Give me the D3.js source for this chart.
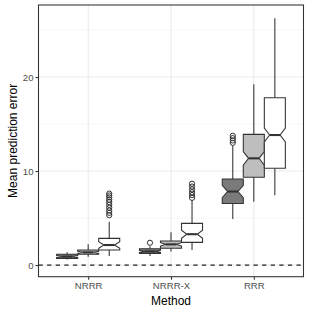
<!DOCTYPE html>
<html>
<head>
<meta charset="utf-8">
<script src="https://cdn.jsdelivr.net/npm/d3@7/dist/d3.min.js"></script>
<style>
html,body{margin:0;padding:0;background:#fff;}
svg{display:block;font-family:"Liberation Sans",Arial,sans-serif;}
</style>
</head>
<body>
<svg id="chart" width="310" height="310"></svg>
<script>
// ---- data ----
const methods = ["NRRR", "NRRR-X", "RRR"];
const groups = ["G1", "G2", "G3"];
const fills = ["#7a7a7a", "#bebebe", "#ffffff"];
// stats per method (rows) and group (cols)
const lowerWhisker = [[0.60, 0.88, 0.96], [0.96, 1.45, 1.60], [4.90, 6.73, 7.42]];
const q1 = [[0.71, 1.14, 1.60], [1.24, 1.78, 2.41], [6.54, 9.33, 10.29]];
const median = [[0.90, 1.35, 2.13], [1.45, 2.20, 3.28], [7.82, 11.35, 13.83]];
const q3 = [[1.14, 1.60, 2.84], [1.73, 2.55, 4.43], [9.15, 13.90, 17.80]];
const upperWhisker = [[1.35, 2.20, 4.60], [2.00, 3.48, 6.90], [12.70, 19.22, 26.24]];
const notchHalf = [[0.10, 0.12, 0.35], [0.12, 0.18, 0.43], [0.66, 0.72, 0.74]];
const outliers = [
  [[], [], [5.30, 5.55, 5.80, 6.10, 6.40, 6.70, 6.95, 7.20, 7.40, 7.60]],
  [[2.37], [], [7.15, 7.45, 7.75, 8.05, 8.35, 8.65]],
  [[13.00, 13.25, 13.50, 13.75], [], []]
];
const yTicks = [0, 10, 20];
const yMinor = [5, 15, 25];

// ---- layout ----
const svg = d3.select("#chart");
const pl = 38.5, pr = 303.5, pt = 5, pb = 276.7;
const x = d3.scaleLinear().domain([0.4, 3.6]).range([pl, pr]);
const y = d3.scaleLinear().domain([-1.24, 27.66]).range([pb, pt]);
const dodge = 0.254; // group offset in x units
const bw = 0.254;

// grid
const g = svg.append("g");
g.selectAll(".minor").data(yMinor).enter().append("line")
  .attr("x1", pl).attr("x2", pr).attr("y1", d => y(d)).attr("y2", d => y(d))
  .attr("stroke", "#f2f2f2").attr("stroke-width", 0.55);
g.selectAll(".major").data(yTicks).enter().append("line")
  .attr("x1", pl).attr("x2", pr).attr("y1", d => y(d)).attr("y2", d => y(d))
  .attr("stroke", "#ebebeb").attr("stroke-width", 1.07);
g.selectAll(".vmajor").data(methods).enter().append("line")
  .attr("x1", (d, i) => x(i + 1)).attr("x2", (d, i) => x(i + 1))
  .attr("y1", pt).attr("y2", pb)
  .attr("stroke", "#ebebeb").attr("stroke-width", 1.07);

// boxes
const line = "#333333";
methods.forEach((m, i) => {
  groups.forEach((gr, j) => {
    const cx = i + 1 + (j - 1) * dodge;
    const x0 = x(cx - bw / 2), x1 = x(cx + bw / 2), xc = x(cx);
    const inset = (x1 - x0) * 0.25;
    const bg = svg.append("g");
    // whiskers
    bg.append("line").attr("x1", xc).attr("x2", xc)
      .attr("y1", y(q3[i][j])).attr("y2", y(upperWhisker[i][j]))
      .attr("stroke", line).attr("stroke-width", 1.07);
    bg.append("line").attr("x1", xc).attr("x2", xc)
      .attr("y1", y(q1[i][j])).attr("y2", y(lowerWhisker[i][j]))
      .attr("stroke", line).attr("stroke-width", 1.07);
    // outliers
    bg.selectAll("circle").data(outliers[i][j]).enter().append("circle")
      .attr("cx", xc).attr("cy", d => y(d)).attr("r", 2.6)
      .attr("fill", "none").attr("stroke", line).attr("stroke-width", 1);
    // notched box
    const nu = y(median[i][j] + notchHalf[i][j]), nl = y(median[i][j] - notchHalf[i][j]);
    const ym = y(median[i][j]);
    const pts = [
      [x0, y(q3[i][j])], [x0, nu], [x0 + inset, ym], [x0, nl], [x0, y(q1[i][j])],
      [x1, y(q1[i][j])], [x1, nl], [x1 - inset, ym], [x1, nu], [x1, y(q3[i][j])]
    ];
    bg.append("path").attr("d", d3.line()(pts) + "Z")
      .attr("fill", fills[j]).attr("stroke", line).attr("stroke-width", 1.07)
      .attr("stroke-linejoin", "miter");
    bg.append("line").attr("x1", x0 + inset).attr("x2", x1 - inset)
      .attr("y1", ym).attr("y2", ym)
      .attr("stroke", line).attr("stroke-width", 2.1);
  });
});

// dashed zero line
svg.append("line").attr("x1", pl).attr("x2", pr).attr("y1", y(0)).attr("y2", y(0))
  .attr("stroke", "#222").attr("stroke-width", 1.2).attr("stroke-dasharray", "4.3,4.3");

// panel border
svg.append("rect").attr("x", pl).attr("y", pt).attr("width", pr - pl).attr("height", pb - pt)
  .attr("fill", "none").attr("stroke", "#333333").attr("stroke-width", 1.07);

// axes
const yAxis = d3.axisLeft(y).tickValues(yTicks).tickSize(3).tickPadding(2);
const ya = svg.append("g").attr("transform", `translate(${pl},0)`).call(yAxis);
const xAxis = d3.axisBottom(x).tickValues([1, 2, 3]).tickFormat((d, i) => methods[i]).tickSize(3).tickPadding(2.5);
const xa = svg.append("g").attr("transform", `translate(0,${pb})`).call(xAxis);
[ya, xa].forEach(a => {
  a.select(".domain").remove();
  a.selectAll(".tick line").attr("stroke", "#333333").attr("stroke-width", 1.07);
  a.selectAll(".tick text").attr("fill", "#4d4d4d").style("font-size", "9.6px")
    .style("font-family", "Liberation Sans, Arial, sans-serif");
});

// titles
svg.append("text").attr("x", x(2)).attr("y", 305).attr("text-anchor", "middle")
  .style("font-size", "12px").attr("fill", "#000").text("Method");
svg.append("text").attr("transform", `translate(17,${(pt + pb) / 2}) rotate(-90)`)
  .attr("text-anchor", "middle").style("font-size", "12px").attr("fill", "#000")
  .text("Mean prediction error");
</script>
</body>
</html>
